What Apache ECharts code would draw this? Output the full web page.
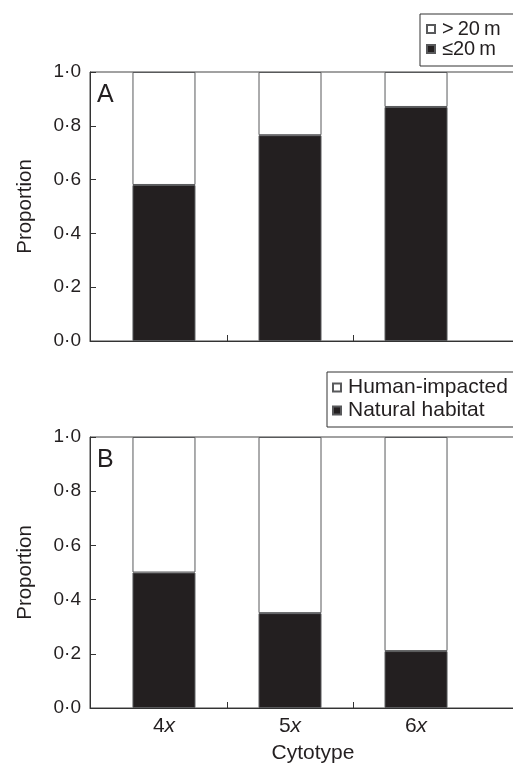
<!DOCTYPE html>
<html>
<head>
<meta charset="utf-8">
<script src="https://cdn.jsdelivr.net/npm/echarts@6/dist/echarts.min.js"></script>
<style>
  html, body { margin: 0; padding: 0; background: #fff; }
  #chart { width: 513px; height: 763px; }
</style>
</head>
<body>
<div id="chart"></div>
<script>
// ---- Data ----
const cytotypes = ['4', '5', '6'];           // 4x, 5x, 6x
const positions = [1, 2, 3];
const nearA = [0.58, 0.765, 0.87];           // ≤20 m
const farA = [0.42, 0.235, 0.13];            // >20 m
const naturalB = [0.50, 0.35, 0.21];         // Natural habitat
const humanB = [0.50, 0.65, 0.79];           // Human-impacted
const yTicks = [0, 0.2, 0.4, 0.6, 0.8, 1.0];
const boundaryTicks = [1.5, 2.5];

const FONT = '"Liberation Sans", Arial, Helvetica, sans-serif';
const BLACK = '#231f20';
const EDGE = '#58595b';

// value first so that the stacked dimension is the y value
const pairs = (vals) => vals.map((v, i) => [v, positions[i]]);

function xAxisDef(gridIndex, showLabels) {
  return {
    type: 'value', gridIndex: gridIndex, min: 0.413, max: 3.952,
    axisLine: { show: true, lineStyle: { color: '#333', width: 1 } },
    axisTick: { show: true, inside: true, length: 6, customValues: boundaryTicks, lineStyle: { color: '#333' } },
    splitLine: { show: false },
    axisLabel: {
      show: showLabels, customValues: positions, margin: 8,
      formatter: (v) => '{n|' + cytotypes[positions.indexOf(v)] + '}{i|x}',
      rich: {
        n: { fontFamily: FONT, fontSize: 21, color: '#231f20' },
        i: { fontFamily: FONT, fontSize: 21, fontStyle: 'italic', color: '#231f20' }
      }
    },
    name: showLabels ? 'Cytotype' : '',
    nameLocation: 'middle', nameGap: 35,
    nameTextStyle: { fontFamily: FONT, fontSize: 21, color: '#231f20' }
  };
}

function yAxisDef(gridIndex) {
  return {
    type: 'value', gridIndex: gridIndex, min: 0, max: 1, interval: 0.2,
    axisLine: { show: true, lineStyle: { color: '#333', width: 1 } },
    axisTick: { show: true, inside: true, length: 6, lineStyle: { color: '#333' } },
    splitLine: { show: false },
    axisLabel: {
      margin: 9, fontFamily: FONT, fontSize: 19, color: '#231f20',
      formatter: (v) => v.toFixed(1).replace('.', '\u00B7')
    },
    name: 'Proportion', nameLocation: 'middle', nameGap: 54,
    nameTextStyle: { fontFamily: FONT, fontSize: 20.5, color: '#231f20' }
  };
}

function barSeries(name, vals, idx, stack, dark) {
  return {
    name: name, type: 'bar', xAxisIndex: idx, yAxisIndex: idx, stack: stack,
    barWidth: 63, data: pairs(vals), encode: { x: 1, y: 0 },
    itemStyle: { color: dark ? BLACK : '#ffffff', borderColor: EDGE, borderWidth: 1 },
    emphasis: { disabled: true }, animation: false
  };
}

const chart = echarts.init(document.getElementById('chart'), null, { renderer: 'canvas' });
chart.setOption({
  animation: false,
  backgroundColor: '#ffffff',
  grid: [
    { left: 90, top: 72, width: 446, height: 269, outerBoundsMode: 'none', containLabel: false, show: true, borderColor: '#444', borderWidth: 1, backgroundColor: 'transparent' },
    { left: 90, top: 437, width: 446, height: 271, outerBoundsMode: 'none', containLabel: false, show: true, borderColor: '#444', borderWidth: 1, backgroundColor: 'transparent' }
  ],
  xAxis: [xAxisDef(0, false), xAxisDef(1, true)],
  yAxis: [yAxisDef(0), yAxisDef(1)],
  legend: [
    {
      data: ['>\u200920\u2009m', '\u226420\u2009m'], orient: 'vertical',
      left: 420, top: 14, padding: [5, 40, 7, 6], itemGap: 0,
      itemWidth: 8, itemHeight: 8, icon: 'rect',
      borderColor: '#333', borderWidth: 1,
      textStyle: { fontFamily: FONT, fontSize: 20, color: '#231f20', padding: [0, 0, 0, 2] },
      selectedMode: false
    },
    {
      data: ['Human-impacted', 'Natural habitat'], orient: 'vertical',
      left: 327, top: 372, padding: [5, 25, 6, 5], itemGap: 2,
      itemWidth: 8, itemHeight: 8, icon: 'rect',
      borderColor: '#333', borderWidth: 1,
      textStyle: { fontFamily: FONT, fontSize: 21, color: '#231f20', padding: [0, 0, 0, 2] },
      selectedMode: false
    }
  ],
  graphic: [
    { type: 'text', left: 97, top: 83, style: { text: 'A', fontFamily: FONT, fontSize: 25, fill: '#231f20' } },
    { type: 'text', left: 97, top: 448, style: { text: 'B', fontFamily: FONT, fontSize: 25, fill: '#231f20' } }
  ],
  series: [
    barSeries('\u226420\u2009m', nearA, 0, 'A', true),
    barSeries('>\u200920\u2009m', farA, 0, 'A', false),
    barSeries('Natural habitat', naturalB, 1, 'B', true),
    barSeries('Human-impacted', humanB, 1, 'B', false)
  ]
});
</script>
</body>
</html>
